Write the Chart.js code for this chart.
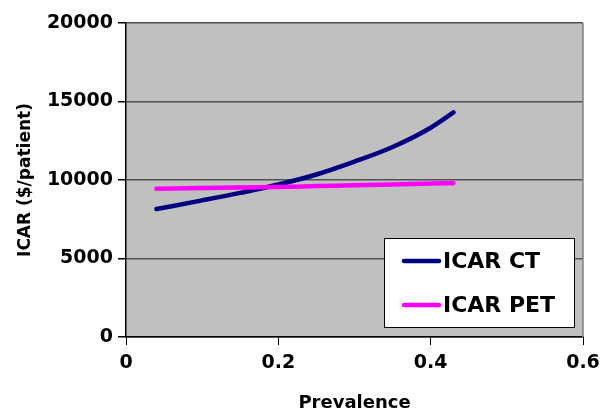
<!DOCTYPE html>
<html>
<head>
<meta charset="utf-8">
<script src="https://cdn.jsdelivr.net/npm/chart.js@4"></script>
<style>
  html, body { margin: 0; padding: 0; background: #fff; }
  #wrap { width: 608px; height: 414px; }
</style>
</head>
<body>
<div id="wrap"><canvas id="chart"></canvas></div>
<script>
// prevalence values (x) and ICAR per patient for each strategy
const prevalence = [0.04, 0.10, 0.15, 0.20, 0.25, 0.30, 0.35, 0.40, 0.43];
const icarCT  = [8150, 8700, 9180, 9710, 10350, 11170, 12100, 13330, 14300];
const icarPET = [9450, 9490, 9530, 9560, 9610, 9660, 9710, 9770, 9800];
const seriesNames = ["ICAR CT", "ICAR PET"];
const xTicks = [0, 0.2, 0.4, 0.6];
const yTicks = [0, 5000, 10000, 15000, 20000];

const FONT = "'DejaVu Sans', sans-serif";

function toPoints(ys) {
  return prevalence.map((x, i) => ({ x: x, y: ys[i] }));
}

// grey plot background + grey right border
const plotBg = {
  id: 'plotBg',
  beforeDraw(chart) {
    const { ctx, chartArea: a } = chart;
    ctx.save();
    ctx.fillStyle = '#c0c0c0';
    ctx.fillRect(a.left, a.top, a.right - a.left, a.bottom - a.top);
    ctx.restore();
  },
  beforeDatasetsDraw(chart) {
    const { ctx, chartArea: a } = chart;
    ctx.save();
    ctx.strokeStyle = '#808080';
    ctx.lineWidth = 1.5;
    ctx.beginPath();
    ctx.moveTo(a.right, a.top);
    ctx.lineTo(a.right, a.bottom);
    ctx.stroke();
    ctx.restore();
  }
};

// boxed legend inside the plot, lower right
const boxLegend = {
  id: 'boxLegend',
  afterDraw(chart) {
    const { ctx } = chart;
    const box = { x: 384, y: 238, w: 190, h: 89 };
    ctx.save();
    ctx.fillStyle = '#fff';
    ctx.fillRect(box.x, box.y, box.w, box.h);
    ctx.strokeStyle = '#000';
    ctx.lineWidth = 1;
    ctx.strokeRect(box.x + 0.5, box.y + 0.5, box.w, box.h);
    ctx.font = 'bold 22px ' + FONT;
    ctx.textBaseline = 'middle';
    ctx.lineCap = 'round';
    chart.data.datasets.forEach((ds, i) => {
      const cy = box.y + 23 + i * 44;
      ctx.strokeStyle = ds.borderColor;
      ctx.lineWidth = 4.5;
      ctx.beginPath();
      ctx.moveTo(box.x + 20, cy);
      ctx.lineTo(box.x + 55, cy);
      ctx.stroke();
      ctx.fillStyle = '#000';
      ctx.fillText(ds.label, box.x + 59, cy + 1);
    });
    ctx.restore();
  }
};

new Chart(document.getElementById('chart'), {
  type: 'line',
  data: {
    datasets: [{
      label: seriesNames[0],
      data: toPoints(icarCT),
      borderColor: '#000080',
      borderWidth: 4.5,
      borderCapStyle: 'round',
      pointRadius: 0,
      cubicInterpolationMode: 'monotone',
      order: 1
    }, {
      label: seriesNames[1],
      data: toPoints(icarPET),
      borderColor: '#ff00ff',
      borderWidth: 4.5,
      borderCapStyle: 'round',
      pointRadius: 0,
      cubicInterpolationMode: 'monotone',
      order: 0   // pink line sits on top of the blue one
    }]
  },
  options: {
    responsive: true,
    maintainAspectRatio: false,
    animation: false,
    layout: { padding: { left: 0, top: 23, right: 25, bottom: 0 } },
    plugins: { legend: { display: false }, tooltip: { enabled: false } },
    scales: {
      x: {
        type: 'linear',
        min: 0, max: 0.6,
        afterBuildTicks(scale) { scale.ticks = xTicks.map(v => ({ value: v })); },
        afterFit(scale) { scale.height = 77; },
        ticks: {
          padding: 7,
          color: '#000',
          font: { family: FONT, size: 19, weight: 'bold' },
          callback: v => String(v)
        },
        grid: { color: 'rgba(0,0,0,0)', tickColor: '#000', tickLength: 8, drawOnChartArea: false },
        border: { color: '#000', width: 1.5 },
        title: {
          display: true,
          text: 'Prevalence',
          color: '#000',
          font: { family: FONT, size: 18, weight: 'bold' },
          padding: { top: 0, bottom: 0 }
        }
      },
      y: {
        min: 0, max: 20000,
        afterBuildTicks(scale) { scale.ticks = yTicks.map(v => ({ value: v })); },
        afterFit(scale) { scale.width = 126; },
        ticks: {
          padding: 5,
          color: '#000',
          font: { family: FONT, size: 19, weight: 'bold' },
          callback: v => String(v)
        },
        grid: { color: '#505050', lineWidth: 1.5, tickColor: '#000', tickLength: 8 },
        border: { color: '#000', width: 1.5 },
        title: {
          display: true,
          text: 'ICAR ($/patient)',
          color: '#000',
          font: { family: FONT, size: 17, weight: 'bold' },
          padding: { top: 15, bottom: 0 }
        }
      }
    }
  },
  plugins: [plotBg, boxLegend]
});
</script>
</body>
</html>
